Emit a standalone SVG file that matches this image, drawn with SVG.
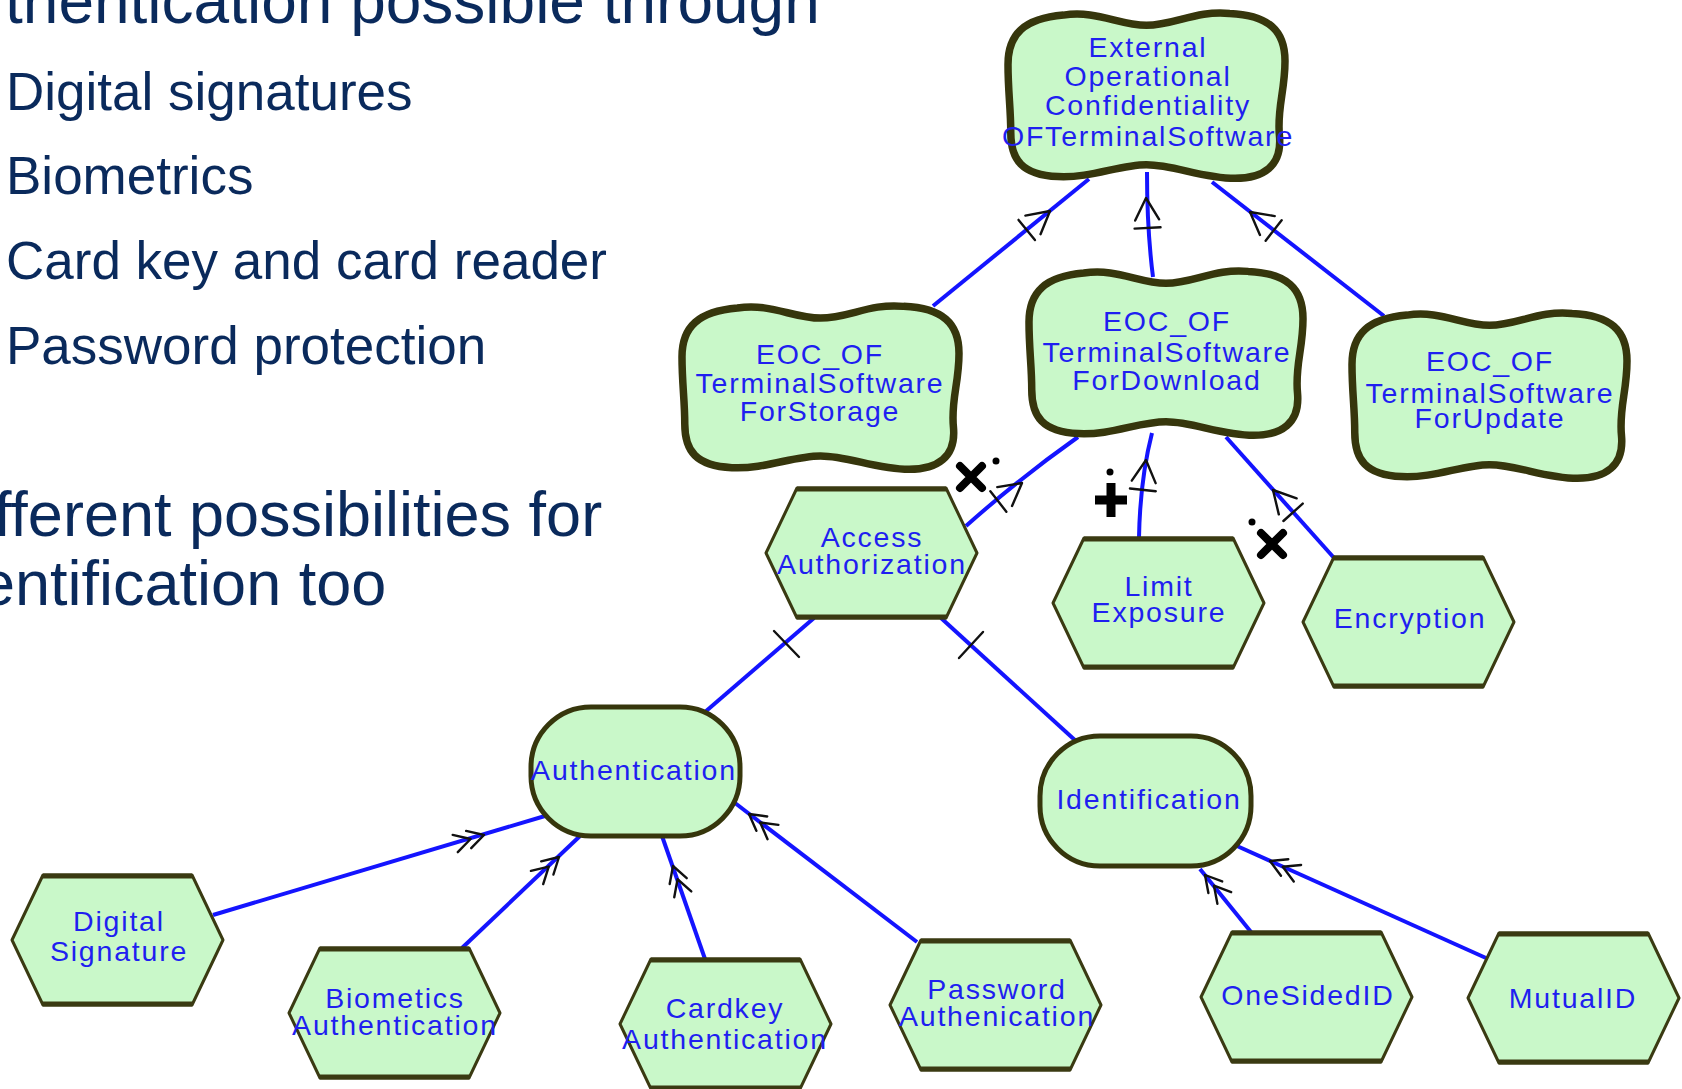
<svg xmlns="http://www.w3.org/2000/svg" width="1682" height="1089" viewBox="0 0 1682 1089">
<style>
.slide{font-family:"Liberation Sans",Arial,sans-serif;fill:#0a2a5c}
.h{font-size:64px}
.h2{font-size:63px}
.b{font-size:53px}
.lbl{font-family:"Liberation Sans",Arial,sans-serif;font-size:28.5px;letter-spacing:1.8px;fill:#1f1ff0;text-anchor:middle}
.cl{fill:#c9f8c9;stroke:#36360c;stroke-width:7.5;vector-effect:non-scaling-stroke;stroke-linejoin:round}
.hx{fill:#c9f8c9;stroke:#3a3a12;stroke-width:3;stroke-linejoin:round}
.hb{stroke:#3a3a12;stroke-width:5}
.st{fill:#c9f8c9;stroke:#36360c;stroke-width:5}
.ln{fill:none;stroke:#1414ff;stroke-width:4}
.mk{fill:none;stroke:#111;stroke-width:2.4;stroke-linecap:round;stroke-linejoin:round}
.x{fill:none;stroke:#000;stroke-width:8;stroke-linecap:round}
</style>
<defs>
<path id="cloud" class="cl" d="M20,3 C32,0 40,9 50,9 C60,9 68,0 80,2 C94,3 100,12 100,30 C100,48 97,58 98,74 C99,92 92,99 82,99 C70,99 60,91 50,91 C40,91 30,99 18,98 C5,97 1,88 1,72 C1,58 0,48 0,32 C0,14 6,5 20,3 Z"/>
<g id="hex"><polygon class="hx" points="0,65 31,0 180,0 211,65 180,130 31,130"/><line class="hb" x1="31" y1="1" x2="180" y2="1"/><line class="hb" x1="31" y1="129" x2="180" y2="129"/></g>
<path id="aA" class="mk" d="M-22,-12 L0,0 L-22,12 M-30,-13 L-30,13"/>
<path id="aB" class="mk" d="M-16,-9 L0,0 L-16,9 M-30,-9 L-14,0 L-30,9"/>
</defs>
<rect width="1682" height="1089" fill="#ffffff"/>
<g id="slide-text">
<text class="slide h" x="5" y="23">thentication possible through</text>
<text class="slide b" x="6" y="110">Digital signatures</text>
<text class="slide b" x="6" y="194">Biometrics</text>
<text class="slide b" x="6" y="279">Card key and card reader</text>
<text class="slide b" x="6" y="364">Password protection</text>
<text class="slide h2" x="-6" y="536">fferent possibilities for</text>
<text class="slide h2" x="-20" y="605">entification too</text>
</g>
<g id="connectors">
<path class="ln" d="M1089,179 L933,306"/>
<path class="ln" d="M1147,172 Q1147,230 1153,277"/>
<path class="ln" d="M1212,182 L1384,316"/>
<path class="ln" d="M1078,437 Q1020,478 966,526"/>
<path class="ln" d="M1152,433 Q1140,480 1139,538"/>
<path class="ln" d="M1226,437 L1335,559"/>
<path class="ln" d="M814,618 L705,712"/>
<path class="ln" d="M941,618 L1077,742"/>
<path class="ln" d="M213,915 L545,816"/>
<path class="ln" d="M462,948 L580,836"/>
<path class="ln" d="M705,959 L662,836"/>
<path class="ln" d="M917,942 L735,803"/>
<path class="ln" d="M1251,932 L1200,869"/>
<path class="ln" d="M1486,958 L1237,846"/>
<use href="#aA" transform="translate(1050,211) rotate(-39.2)"/>
<use href="#aA" transform="translate(1146,198) rotate(-93)"/>
<use href="#aA" transform="translate(1250,212) rotate(-142)"/>
<use href="#aA" transform="translate(1022,483) rotate(-38)"/>
<use href="#aA" transform="translate(1146,460) rotate(-84)"/>
<use href="#aA" transform="translate(1273,490) rotate(-132)"/>
<use href="#aB" transform="translate(484,835) rotate(-16.5)"/>
<use href="#aB" transform="translate(559,857) rotate(-43)"/>
<use href="#aB" transform="translate(673,866) rotate(-109)"/>
<use href="#aB" transform="translate(749,814) rotate(-143)"/>
<use href="#aB" transform="translate(1205,875) rotate(-130)"/>
<use href="#aB" transform="translate(1270,861) rotate(-156)"/>
<path class="mk" d="M774,631 L799,657 M959,658 L983,632"/>
<path class="x" d="M960,466 L982,488 M982,466 L960,488"/>
<circle cx="996" cy="461" r="3.5" fill="#000"/>
<path class="x" d="M1261,533 L1283,555 M1283,533 L1261,555"/>
<circle cx="1252" cy="522" r="3.5" fill="#000"/>
<path class="x" style="stroke-width:9;stroke-linecap:butt" d="M1111,483 L1111,517 M1095,500 L1127,500"/>
<circle cx="1110" cy="472" r="3.5" fill="#000"/>
</g>
<g id="node-eoc-top">
<use href="#cloud" transform="translate(1008,10) scale(2.77,1.70)"/>
<text class="lbl" x="1148" y="57">External</text>
<text class="lbl" x="1148" y="86">Operational</text>
<text class="lbl" x="1148" y="115">Confidentiality</text>
<text class="lbl" x="1148" y="146">OFTerminalSoftware</text>
</g>
<g id="node-storage">
<use href="#cloud" transform="translate(682,303) scale(2.77,1.68)"/>
<text class="lbl" x="820" y="364">EOC_OF</text>
<text class="lbl" x="820" y="393">TerminalSoftware</text>
<text class="lbl" x="820" y="421">ForStorage</text>
</g>
<g id="node-download">
<use href="#cloud" transform="translate(1029,268) scale(2.74,1.69)"/>
<text class="lbl" x="1167" y="331">EOC_OF</text>
<text class="lbl" x="1167" y="362">TerminalSoftware</text>
<text class="lbl" x="1167" y="390">ForDownload</text>
</g>
<g id="node-update">
<use href="#cloud" transform="translate(1352,310) scale(2.75,1.70)"/>
<text class="lbl" x="1490" y="371">EOC_OF</text>
<text class="lbl" x="1490" y="403">TerminalSoftware</text>
<text class="lbl" x="1490" y="428">ForUpdate</text>
</g>
<g id="node-access">
<use href="#hex" x="766" y="488"/>
<text class="lbl" x="872" y="547">Access</text>
<text class="lbl" x="872" y="574">Authorization</text>
</g>
<g id="node-limit">
<use href="#hex" x="1053" y="538"/>
<text class="lbl" x="1159" y="596">Limit</text>
<text class="lbl" x="1159" y="622">Exposure</text>
</g>
<g id="node-encryption">
<use href="#hex" x="1303" y="557"/>
<text class="lbl" x="1410" y="628">Encryption</text>
</g>
<g id="node-authentication">
<rect class="st" x="531" y="707" width="209" height="129" rx="60" ry="60"/>
<text class="lbl" x="634" y="780">Authentication</text>
</g>
<g id="node-identification">
<rect class="st" x="1040" y="736" width="211" height="130" rx="60" ry="60"/>
<text class="lbl" x="1149" y="809">Identification</text>
</g>
<g id="node-digsig">
<use href="#hex" x="12" y="875"/>
<text class="lbl" x="119" y="931">Digital</text>
<text class="lbl" x="119" y="961">Signature</text>
</g>
<g id="node-bio">
<use href="#hex" x="289" y="948"/>
<text class="lbl" x="395" y="1008">Biometics</text>
<text class="lbl" x="395" y="1035">Authentication</text>
</g>
<g id="node-cardkey">
<use href="#hex" x="620" y="959"/>
<text class="lbl" x="725" y="1018">Cardkey</text>
<text class="lbl" x="725" y="1049">Authentication</text>
</g>
<g id="node-password">
<use href="#hex" x="890" y="940"/>
<text class="lbl" x="997" y="999">Password</text>
<text class="lbl" x="997" y="1026">Authenication</text>
</g>
<g id="node-onesided">
<use href="#hex" x="1201" y="932"/>
<text class="lbl" x="1308" y="1005">OneSidedID</text>
</g>
<g id="node-mutual">
<use href="#hex" x="1468" y="933"/>
<text class="lbl" x="1573" y="1008">MutualID</text>
</g>
</svg>
